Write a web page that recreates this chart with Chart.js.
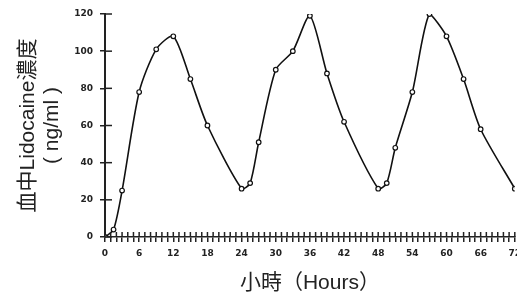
<!DOCTYPE html>
<html>
<head>
<meta charset="utf-8">
<script src="https://cdn.jsdelivr.net/npm/chart.js@4/dist/chart.umd.min.js"></script>
<style>
html,body{margin:0;padding:0;background:#fff;overflow:hidden;}
#wrap{width:517px;height:296px;position:relative;overflow:hidden;}
</style>
</head>
<body>
<div id="wrap"><canvas id="c" width="520" height="296"></canvas></div>
<script>
// Data
const hours = [0, 1.5, 3, 6, 9, 12, 15, 18, 24, 25.5, 27, 30, 33, 36, 39, 42, 48, 49.5, 51, 54, 57, 60, 63, 66, 72];
const concentration = [0, 4, 25, 78, 101, 108, 85, 60, 26, 29, 51, 90, 100, 119, 88, 62, 26, 29, 48, 78, 120, 108, 85, 58, 26];
const xTickLabels = [0, 6, 12, 18, 24, 30, 36, 42, 48, 54, 60, 66, 72];
const yTickLabels = [0, 20, 40, 60, 80, 100, 120];
const yTitle = ['血中Lidocaine濃度', '( ng/ml )'];
const xTitle = '小時（Hours）';

const points = hours.map((h, i) => ({x: h, y: concentration[i]}));
const FONT = '"Liberation Sans", Arial, "Noto Sans CJK TC", sans-serif';

// inner half of the crossing tick marks
const innerTicks = {
  id: 'innerTicks',
  afterDraw(chart) {
    const {ctx, chartArea, scales} = chart;
    ctx.save();
    ctx.strokeStyle = '#222';
    ctx.lineWidth = 1.5;
    scales.x.ticks.forEach(t => {
      const px = scales.x.getPixelForValue(t.value);
      ctx.beginPath();
      ctx.moveTo(px, chartArea.bottom);
      ctx.lineTo(px, chartArea.bottom - 5);
      ctx.stroke();
    });
    scales.y.ticks.forEach(t => {
      const py = scales.y.getPixelForValue(t.value);
      ctx.beginPath();
      ctx.moveTo(chartArea.left, py);
      ctx.lineTo(chartArea.left + 7, py);
      ctx.stroke();
    });
    ctx.restore();
  }
};

new Chart(document.getElementById('c'), {
  type: 'scatter',
  data: {
    datasets: [{
      data: points,
      showLine: true,
      borderColor: '#111',
      borderWidth: 1.6,
      tension: 0.25,
      pointStyle: 'circle',
      pointRadius: 2.3,
      pointBorderWidth: 1.2,
      pointBackgroundColor: '#fff',
      pointBorderColor: '#111'
    }]
  },
  options: {
    responsive: false,
    animation: false,
    devicePixelRatio: 1,
    layout: {padding: {top: 14, right: 0, left: 0, bottom: 0}},
    plugins: {legend: {display: false}, tooltip: {enabled: false}},
    scales: {
      x: {
        type: 'linear',
        min: 0,
        max: 72,
        afterBuildTicks(scale) {
          const t = [];
          for (let v = scale.min; v <= scale.max; v += 1) t.push({value: v});
          scale.ticks = t;
        },
        afterFit(scale) {
          scale.height = 59;
          scale.paddingLeft = 0;
          scale.paddingRight = 0;
          scale.paddingTop = 0;
          scale.paddingBottom = 0;
        },
        border: {color: '#222', width: 1.5},
        grid: {drawOnChartArea: false, drawTicks: true, tickLength: 5, color: '#222', lineWidth: 1.5},
        ticks: {
          autoSkip: false,
          maxRotation: 0,
          padding: 6,
          color: '#222',
          font: {family: '"DejaVu Sans", sans-serif', size: 9, weight: 'bold'},
          callback: (v) => xTickLabels.includes(v) ? String(v) : ''
        },
        title: {
          display: true,
          text: xTitle,
          color: '#222',
          padding: {top: 0, bottom: 0},
          font: {family: FONT, size: 21}
        }
      },
      y: {
        min: 0,
        max: 120,
        afterBuildTicks(scale) {
          scale.ticks = yTickLabels.map(v => ({value: v}));
        },
        afterFit(scale) {
          scale.width = 105;
          scale.paddingTop = 0;
          scale.paddingBottom = 0;
          scale.paddingLeft = 0;
          scale.paddingRight = 0;
        },
        border: {color: '#222', width: 2},
        grid: {drawOnChartArea: false, drawTicks: true, tickLength: 5, color: '#222', lineWidth: 1.5},
        ticks: {
          padding: 7,
          color: '#222',
          font: {family: '"DejaVu Sans", sans-serif', size: 9, weight: 'bold'}
        },
        title: {
          display: true,
          text: yTitle,
          color: '#222',
          padding: {top: 16, bottom: 0},
          font: {family: FONT, size: 21, lineHeight: '24px'}
        }
      }
    }
  },
  plugins: [innerTicks]
});
</script>
</body>
</html>
